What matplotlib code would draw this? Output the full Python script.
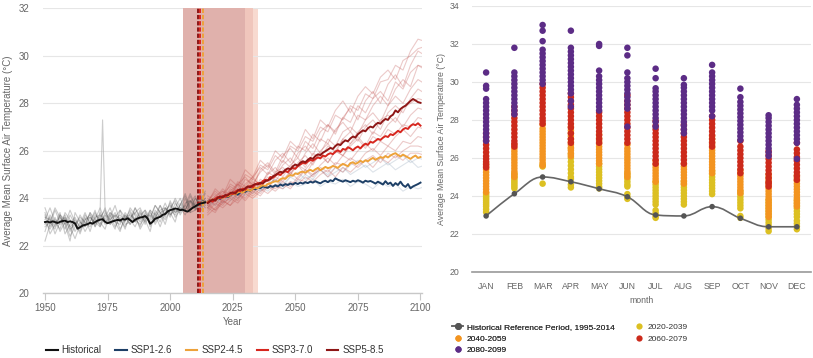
import numpy as np
import matplotlib
matplotlib.use("Agg")
import matplotlib.pyplot as plt
from matplotlib.path import Path
from matplotlib.patches import PathPatch
from matplotlib.lines import Line2D

plt.rcParams['font.family'] = ['Liberation Sans', 'DejaVu Sans']

# ---------------- LEFT CHART DATA ----------------
hist_start = 1950
hist_mean = [23.00, 23.02, 22.98, 23.03, 23.00, 22.96, 23.01, 23.04, 23.06, 23.00,
             23.03, 23.00, 22.94, 22.72, 22.78, 22.85, 22.88, 22.91, 22.97, 22.93,
             23.00, 23.06, 23.10, 23.12, 23.01, 22.95, 22.99, 23.03, 23.06, 23.09,
             23.07, 23.13, 23.10, 23.16, 23.08, 23.00, 23.10, 23.15, 23.19, 23.21,
             23.25, 23.15, 22.93, 23.01, 23.14, 23.18, 23.22, 23.30, 23.34, 23.45,
             23.50, 23.53, 23.57, 23.55, 23.50, 23.52, 23.47, 23.44, 23.52, 23.60,
             23.66, 23.73, 23.78, 23.80, 23.83]

fut_start = 2015
ssp126 = [23.85, 23.92, 23.88, 23.97, 24.02, 23.98, 24.06, 24.10, 24.05, 24.14,
          24.18, 24.22, 24.15, 24.25, 24.30, 24.27, 24.35, 24.32, 24.40, 24.38,
          24.45, 24.42, 24.50, 24.47, 24.44, 24.52, 24.48, 24.55, 24.50, 24.58,
          24.53, 24.60, 24.56, 24.62, 24.58, 24.65, 24.60, 24.66, 24.62, 24.68,
          24.64, 24.70, 24.66, 24.72, 24.67, 24.63, 24.70, 24.74, 24.68, 24.76,
          24.72, 24.84, 24.78, 24.74, 24.70, 24.76, 24.72, 24.68, 24.74, 24.70,
          24.76, 24.72, 24.66, 24.74, 24.70, 24.73, 24.68, 24.62, 24.70, 24.64,
          24.58, 24.72, 24.60, 24.66, 24.52, 24.64, 24.56, 24.70, 24.55, 24.48,
          24.60, 24.42, 24.50, 24.55, 24.60, 24.66]
ssp245 = [23.85, 23.90, 23.95, 23.92, 24.00, 24.05, 24.02, 24.10, 24.08, 24.15,
          24.20, 24.17, 24.25, 24.28, 24.24, 24.33, 24.36, 24.32, 24.40, 24.45,
          24.42, 24.50, 24.55, 24.52, 24.60, 24.63, 24.68, 24.72, 24.70, 24.80,
          24.85, 24.82, 24.92, 24.98, 24.95, 25.05, 25.02, 25.10, 25.12, 25.08,
          25.15, 25.20, 25.14, 25.22, 25.28, 25.18, 25.25, 25.32, 25.27, 25.30,
          25.36, 25.33, 25.28, 25.38, 25.45, 25.40, 25.35, 25.48, 25.52, 25.45,
          25.50, 25.58, 25.52, 25.60, 25.56, 25.64, 25.70, 25.62, 25.68, 25.74,
          25.70, 25.78, 25.72, 25.80, 25.86, 25.90, 25.82, 25.76, 25.84, 25.78,
          25.72, 25.66, 25.74, 25.80, 25.70, 25.74]
ssp370 = [23.82, 23.90, 23.86, 23.98, 24.05, 24.00, 24.10, 24.06, 24.15, 24.20,
          24.18, 24.28, 24.35, 24.30, 24.40, 24.36, 24.48, 24.52, 24.46, 24.58,
          24.64, 24.60, 24.72, 24.78, 24.74, 24.90, 24.86, 24.95, 25.02, 24.98,
          25.08, 25.15, 25.10, 25.22, 25.28, 25.24, 25.36, 25.42, 25.50, 25.46,
          25.55, 25.62, 25.58, 25.66, 25.72, 25.68, 25.80, 25.76, 25.85, 25.90,
          25.86, 25.96, 26.02, 25.95, 26.08, 26.04, 26.15, 26.10, 26.02, 26.12,
          26.18, 26.10, 26.22, 26.30, 26.25, 26.38, 26.34, 26.42, 26.50, 26.46,
          26.55, 26.62, 26.58, 26.70, 26.66, 26.75, 26.84, 26.78, 26.90, 26.96,
          26.92, 27.05, 27.12, 27.08, 27.16, 27.06]
ssp585 = [23.80, 23.88, 23.95, 23.90, 24.02, 24.08, 24.04, 24.14, 24.12, 24.22,
          24.25, 24.20, 24.32, 24.38, 24.34, 24.42, 24.50, 24.46, 24.55, 24.60,
          24.58, 24.66, 24.62, 24.72, 24.76, 24.80, 24.92, 24.98, 25.05, 25.12,
          25.08, 25.20, 25.26, 25.22, 25.35, 25.42, 25.38, 25.50, 25.56, 25.52,
          25.62, 25.70, 25.66, 25.78, 25.85, 25.82, 25.92, 25.98, 26.05, 26.12,
          26.08, 26.20, 26.28, 26.24, 26.36, 26.44, 26.40, 26.52, 26.60, 26.56,
          26.70, 26.78, 26.86, 26.82, 26.95, 27.02, 26.98, 27.10, 27.18, 27.14,
          27.26, 27.34, 27.30, 27.45, 27.52, 27.70, 27.62, 27.76, 27.84, 27.90,
          28.00, 28.10, 28.18, 28.12, 28.05, 28.02]

# historical ensemble members (every 2 years from 1950)
hist_members = [
    [22.6, 23.3, 22.9, 23.4, 22.5, 22.9, 23.2, 22.7, 23.3, 23.0, 23.5, 22.8, 23.2, 23.6, 23.0, 22.9, 23.4,
     23.1, 23.6, 23.2, 23.5, 22.8, 23.3, 23.7, 23.2, 23.9, 23.4, 23.7, 24.1, 23.5, 23.8, 24.2, 23.7],
    [23.4, 22.8, 23.2, 22.6, 23.0, 22.4, 22.8, 23.3, 22.9, 23.4, 22.8, 23.2, 23.5, 22.9, 23.3, 22.7, 23.1,
     23.5, 23.0, 23.4, 23.0, 23.5, 22.9, 23.3, 23.8, 23.3, 23.6, 24.0, 23.5, 23.9, 23.6, 24.0, 23.8],
    [22.2, 22.9, 23.5, 23.0, 23.3, 22.8, 22.3, 22.9, 23.4, 22.9, 23.1, 23.6, 23.0, 23.3, 22.8, 23.2, 22.7,
     23.4, 23.0, 23.5, 22.9, 23.4, 23.1, 23.7, 23.3, 23.5, 24.0, 23.6, 23.3, 23.8, 24.1, 23.6, 23.9],
    [23.1, 23.6, 23.0, 22.7, 23.4, 23.1, 22.6, 23.0, 22.8, 23.4, 23.1, 22.9, 23.3, 23.1, 22.7, 23.5, 23.2,
     22.9, 23.4, 23.6, 23.1, 22.6, 23.5, 23.2, 23.6, 23.4, 23.0, 23.8, 23.5, 24.1, 23.6, 23.4, 23.9],
    [22.8, 23.0, 23.6, 23.2, 22.9, 23.5, 23.0, 22.5, 23.1, 23.3, 22.8, 23.4, 23.0, 23.2, 23.7, 23.0, 23.3,
     22.9, 23.2, 22.8, 23.4, 23.1, 23.7, 23.4, 22.9, 23.6, 23.9, 23.3, 23.7, 23.4, 24.0, 23.7, 24.2],
    [23.3, 22.5, 22.9, 23.2, 22.7, 23.3, 22.9, 23.1, 22.6, 23.0, 23.4, 23.0, 22.7, 23.4, 23.2, 23.5, 22.9,
     23.0, 23.6, 23.1, 23.3, 23.0, 23.4, 23.0, 23.6, 23.2, 23.8, 23.5, 24.0, 23.4, 23.5, 23.9, 23.6],
    [22.9, 23.2, 22.5, 23.0, 23.2, 22.6, 23.1, 22.8, 23.2, 22.6, 23.3, 23.1, 23.6, 22.9, 23.1, 23.3, 23.0,
     23.6, 23.3, 22.7, 23.1, 23.5, 23.3, 22.8, 23.4, 23.8, 23.2, 23.5, 23.7, 24.2, 23.7, 24.1, 23.8],
    [23.6, 23.0, 22.7, 23.3, 22.9, 22.2, 23.4, 23.0, 22.8, 23.2, 22.9, 23.3, 23.1, 23.4, 23.0, 22.6, 23.3,
     23.1, 22.8, 23.3, 23.5, 23.2, 23.7, 23.4, 23.1, 23.5, 23.3, 23.7, 24.2, 23.6, 24.0, 23.8, 24.3],
    [23.0, 22.7, 23.1, 22.9, 23.2, 22.8, 23.0, 22.6, 23.1, 23.2, 23.0, 22.8, 23.4, 23.1, 23.3, 23.1, 22.8,
     23.2, 23.4, 23.0, 23.3, 22.9, 23.2, 23.5, 23.6, 23.3, 23.5, 23.4, 23.8, 23.9, 23.5, 23.8, 24.0],
    [23.2, 23.1, 22.8, 23.3, 23.1, 22.7, 22.9, 23.2, 23.0, 22.8, 23.2, 23.3, 22.9, 23.1, 23.4, 23.0, 23.2,
     23.3, 23.1, 22.9, 23.2, 23.3, 23.0, 23.4, 23.5, 23.7, 23.4, 23.6, 23.5, 23.9, 23.7, 23.6, 24.0],
]
spike_years = [1970, 1971, 1972, 1973, 1974, 1975, 1976]
spike_vals = [23.2, 23.0, 23.4, 27.3, 23.5, 23.1, 23.3]

# future ensemble members (every 3 years from 2015)
fut_members_red = [
    [23.9, 24.3, 24.0, 24.6, 24.4, 25.0, 24.8, 25.4, 25.2, 25.8, 25.5, 26.2, 26.0, 26.6, 26.4, 27.0, 26.8,
     27.5, 27.3, 27.9, 27.7, 28.4, 28.2, 28.9, 29.0, 29.6, 29.4, 30.2, 30.7, 30.6],
    [23.6, 24.0, 24.4, 24.1, 24.7, 24.5, 24.9, 25.3, 25.0, 25.6, 25.9, 25.5, 26.2, 26.0, 26.7, 26.4, 27.1,
     26.8, 27.4, 27.8, 27.3, 28.1, 28.5, 28.0, 28.8, 29.2, 28.7, 29.6, 30.2, 30.0],
    [24.0, 23.7, 24.2, 24.5, 24.3, 24.8, 24.6, 25.1, 25.4, 25.0, 25.6, 25.3, 25.9, 26.2, 25.8, 26.5, 26.3,
     26.9, 27.2, 26.8, 27.5, 27.3, 27.9, 28.3, 27.9, 28.6, 29.0, 28.7, 29.6, 29.4],
    [23.7, 24.1, 23.9, 24.4, 24.2, 24.6, 24.9, 24.5, 25.1, 24.9, 25.4, 25.7, 25.3, 25.9, 26.3, 25.9, 26.5,
     26.2, 26.8, 27.0, 26.7, 27.3, 27.6, 27.2, 27.9, 28.3, 28.0, 28.6, 29.0, 28.8],
    [23.8, 23.5, 24.0, 24.3, 24.0, 24.5, 24.3, 24.8, 24.6, 25.1, 25.3, 25.0, 25.5, 25.8, 25.4, 26.0, 26.3,
     25.9, 26.5, 26.8, 26.4, 27.0, 27.3, 26.9, 27.6, 27.9, 27.6, 28.2, 28.6, 28.4],
    [24.1, 23.9, 24.3, 24.1, 24.6, 24.4, 24.8, 24.6, 25.0, 25.3, 24.9, 25.4, 25.7, 25.3, 25.9, 25.7, 26.2,
     26.0, 26.5, 26.3, 26.8, 27.1, 26.7, 27.3, 27.5, 27.2, 27.8, 28.0, 28.2, 28.1],
    [23.5, 23.9, 23.7, 24.1, 23.9, 24.4, 24.2, 24.6, 24.4, 24.9, 24.7, 25.1, 25.4, 25.0, 25.5, 25.8, 25.5,
     26.0, 25.8, 26.3, 26.6, 26.2, 26.8, 26.6, 27.1, 27.4, 27.0, 27.5, 27.8, 27.7],
    [23.9, 24.2, 23.8, 24.3, 24.6, 24.2, 24.7, 24.5, 24.9, 24.7, 25.2, 25.0, 25.4, 25.2, 25.6, 25.9, 25.5,
     26.0, 25.8, 26.2, 26.5, 26.1, 26.6, 26.4, 26.9, 26.7, 27.1, 27.0, 27.4, 27.3],
    [23.6, 23.4, 23.9, 23.7, 24.2, 24.0, 24.4, 24.2, 24.6, 24.5, 24.8, 25.1, 24.8, 25.2, 25.0, 25.4, 25.7,
     25.4, 25.8, 25.6, 26.0, 26.3, 26.0, 26.4, 26.2, 26.6, 26.9, 26.6, 27.0, 26.9],
    [23.4, 23.8, 23.6, 23.9, 24.2, 23.9, 24.3, 24.1, 24.5, 24.4, 24.7, 24.5, 24.9, 25.2, 24.9, 25.3, 25.1,
     25.5, 25.4, 25.7, 25.5, 25.9, 26.1, 25.8, 26.2, 26.0, 26.4, 26.3, 26.6, 26.5],
    [23.7, 23.5, 23.8, 24.0, 23.8, 24.2, 24.0, 24.3, 24.5, 24.3, 24.6, 24.4, 24.8, 24.7, 25.0, 25.2, 24.9,
     25.3, 25.1, 25.5, 25.3, 25.6, 25.8, 25.5, 25.9, 25.7, 26.0, 26.2, 26.2, 26.1],
    [23.3, 23.6, 23.9, 23.7, 24.0, 24.3, 24.1, 24.4, 24.2, 24.5, 24.4, 24.7, 24.6, 24.9, 24.7, 25.0, 25.2,
     24.9, 25.3, 25.1, 25.4, 25.6, 25.3, 25.7, 25.5, 25.8, 25.6, 25.9, 25.9, 25.8],
    [23.8, 24.4, 24.1, 24.8, 24.5, 25.2, 24.9, 25.6, 25.3, 26.0, 25.7, 26.4, 26.1, 26.9, 26.5, 27.3, 27.0,
     27.7, 28.1, 27.6, 28.3, 28.7, 28.4, 29.1, 29.4, 29.0, 29.8, 30.0, 30.3, 30.4],
    [23.6, 24.1, 24.3, 24.0, 24.6, 24.9, 24.5, 25.2, 25.5, 25.1, 25.8, 26.1, 25.7, 26.4, 26.1, 26.8, 27.1,
     26.7, 27.4, 27.2, 27.9, 27.6, 28.2, 28.5, 28.1, 28.9, 28.6, 29.3, 29.6, 29.5],
]
fut_members_blue = [
    [23.7, 24.0, 23.8, 24.2, 24.4, 24.1, 24.5, 24.3, 24.6, 24.8, 24.5, 24.9, 24.7, 25.0, 24.8, 25.2, 24.9,
     25.1, 25.3, 25.0, 25.2, 25.4, 25.1, 25.3, 25.5, 25.2, 25.4, 25.6, 25.3, 25.4],
    [23.9, 23.7, 24.1, 23.9, 24.2, 24.4, 24.2, 24.5, 24.3, 24.6, 24.4, 24.7, 24.5, 24.6, 24.8, 24.5, 24.7,
     24.6, 24.8, 24.5, 24.7, 24.6, 24.4, 24.7, 24.5, 24.6, 24.3, 24.5, 24.4, 24.5],
    [23.6, 23.9, 24.0, 24.2, 24.0, 24.3, 24.5, 24.3, 24.6, 24.8, 24.6, 24.9, 25.1, 24.8, 25.0, 25.2, 25.0,
     25.3, 25.1, 25.4, 25.6, 25.3, 25.5, 25.7, 25.4, 25.6, 25.8, 25.5, 25.7, 25.6],
]

left_series = ["Historical", "SSP1-2.6", "SSP2-4.5", "SSP3-7.0", "SSP5-8.5"]
left_colors = ["#111111", "#1d3f66", "#eda23a", "#d7261e", "#8e1616"]

# ---------------- RIGHT CHART DATA ----------------
months = ["JAN", "FEB", "MAR", "APR", "MAY", "JUN", "JUL", "AUG", "SEP", "OCT", "NOV", "DEC"]
hist_ref = [22.95, 24.12, 25.0, 24.75, 24.38, 23.96, 23.0, 22.95, 23.44, 22.83, 22.38, 22.38]

p2020 = [
    [23.15, 23.3, 23.45, 23.55, 23.65, 23.75, 23.85, 23.95, 24.05, 24.15],
    [24.4, 24.5, 24.6, 24.7, 24.8, 24.9, 25.0, 25.1, 25.2],
    [24.65, 25.55, 25.65],
    [24.45, 24.6, 24.9, 25.0, 25.2, 25.4, 25.6, 25.8, 26.0, 26.2, 26.5],
    [24.4, 24.5, 24.65, 24.8, 24.95, 25.1, 25.25, 25.4, 25.55, 25.7],
    [23.85, 23.95, 24.1, 24.5, 24.6, 24.75, 24.9, 25.05, 25.2],
    [22.85, 22.95, 23.1, 23.25, 23.55, 23.7, 23.85, 24.0, 24.15, 24.3, 24.45, 24.6, 24.75],
    [23.55, 23.7, 23.85, 24.0, 24.15, 24.3, 24.45, 24.6, 24.75],
    [24.1, 24.25, 24.4, 24.55, 24.7, 24.85, 25.0, 25.15, 25.3],
    [22.85, 22.95, 23.35, 23.5, 23.65, 23.8, 23.95, 24.1, 24.25],
    [22.15, 22.3, 22.45, 22.6, 22.75, 22.9, 23.05, 23.2, 23.35, 23.5, 23.65, 23.8],
    [22.25, 22.4, 22.55, 22.7, 22.9, 23.05, 23.2, 23.35, 23.5, 23.65, 23.8],
]
p2040 = [
    [24.2, 24.35, 24.5, 24.65, 24.8, 24.95, 25.1, 25.25, 25.4, 25.55, 25.7],
    [25.0, 25.15, 25.3, 25.45, 25.6, 25.75, 25.9, 26.05, 26.2, 26.35, 26.5, 26.7],
    [25.6, 25.75, 25.9, 26.05, 26.2, 26.35, 26.5, 26.65, 26.8, 26.95, 27.1, 27.25, 27.4, 27.55, 27.75],
    [26.1, 26.25, 26.4, 26.55, 26.7, 26.85, 27.0, 27.15, 27.3, 27.45, 27.65],
    [25.7, 25.85, 26.0, 26.15, 26.3, 26.45, 26.6, 26.75, 26.9, 27.05, 27.25],
    [25.0, 25.15, 25.3, 25.45, 25.6, 25.75, 25.9, 26.05, 26.2, 26.35, 26.5, 26.7],
    [24.75, 24.9, 25.05, 25.2, 25.35, 25.5, 25.65, 25.85],
    [24.65, 24.8, 24.95, 25.1, 25.25, 25.4, 25.55, 25.7],
    [25.2, 25.35, 25.5, 25.65, 25.8, 25.95, 26.1, 26.25, 26.4, 26.55, 26.7, 26.85, 27.0, 27.15],
    [24.15, 24.3, 24.45, 24.6, 24.75, 24.9, 25.05, 25.2, 25.35],
    [22.9, 23.05, 23.2, 23.35, 23.5, 23.65, 23.8, 23.95, 24.1, 24.25, 24.4, 24.55, 24.7, 24.85, 25.0, 25.15],
    [23.45, 23.6, 23.75, 23.9, 24.05, 24.2, 24.35, 24.5, 24.65, 24.8, 24.95, 25.1],
]
p2060 = [
    [25.5, 25.65, 25.8, 25.95, 26.1, 26.3, 26.5, 26.7, 26.9, 27.1, 27.3],
    [26.6, 26.75, 26.9, 27.1, 27.3, 27.5, 27.7, 27.9, 28.1, 28.3, 28.5, 28.7],
    [27.8, 27.95, 28.1, 28.3, 28.5, 28.7, 28.9, 29.1, 29.3, 29.5, 29.7, 29.9],
    [26.8, 27.0, 27.3, 27.6, 27.8, 28.0, 28.2, 28.4, 28.6, 28.8, 29.0, 29.2, 29.4],
    [26.8, 27.0, 27.2, 27.4, 27.6, 27.8, 28.0, 28.2, 28.4],
    [26.8, 27.0, 27.2, 27.4, 27.6, 27.8, 28.0, 28.2, 28.4, 28.6, 28.8, 29.0, 29.3],
    [25.7, 25.9, 26.1, 26.3, 26.5, 26.7, 26.9, 27.1, 27.3, 27.5, 27.7, 27.95],
    [25.7, 25.9, 26.1, 26.3, 26.5, 26.7, 26.9, 27.1, 27.3, 27.5, 27.75],
    [26.6, 26.8, 27.0, 27.2, 27.4, 27.6, 27.8, 28.0, 28.2],
    [25.2, 25.4, 25.6, 25.8, 26.0, 26.2, 26.4, 26.6, 26.9],
    [24.5, 24.65, 24.75, 24.95, 25.15, 25.35, 25.55, 25.75, 25.95, 26.15, 26.35],
    [24.85, 25.05, 25.25, 25.45, 25.65, 25.85, 26.05, 26.25, 26.45, 26.8],
]
p2080 = [
    [26.9, 27.1, 27.3, 27.5, 27.7, 27.9, 28.1, 28.3, 28.5, 28.7, 28.9, 29.1, 29.65, 29.8, 30.5],
    [28.3, 28.5, 28.7, 28.9, 29.1, 29.3, 29.5, 29.7, 29.9, 30.1, 30.3, 30.5, 31.8],
    [29.9, 30.1, 30.3, 30.5, 30.7, 30.9, 31.1, 31.3, 31.5, 31.7, 32.15, 32.7, 33.0],
    [28.7, 29.0, 29.4, 29.6, 29.8, 30.0, 30.2, 30.4, 30.6, 30.8, 31.0, 31.2, 31.4, 31.6, 31.8, 32.7],
    [28.5, 28.7, 28.9, 29.1, 29.3, 29.5, 29.7, 29.9, 30.1, 30.3, 30.6, 31.9, 32.0],
    [27.65, 28.6, 28.8, 29.0, 29.2, 29.4, 29.6, 29.8, 30.0, 30.2, 30.5, 31.4, 31.8],
    [27.65, 27.9, 28.1, 28.3, 28.5, 28.7, 28.9, 29.1, 29.3, 29.5, 29.67, 30.2, 30.7],
    [27.3, 27.5, 27.7, 27.9, 28.1, 28.3, 28.5, 28.7, 28.9, 29.1, 29.3, 29.5, 29.7, 29.85, 30.2],
    [28.2, 28.5, 28.7, 28.9, 29.1, 29.3, 29.5, 29.7, 29.9, 30.1, 30.3, 30.5, 30.9],
    [26.95, 27.15, 27.35, 27.55, 27.75, 27.95, 28.15, 28.35, 28.55, 28.75, 28.95, 29.2, 29.65],
    [26.1, 26.3, 26.5, 26.7, 26.9, 27.1, 27.3, 27.5, 27.7, 27.9, 28.1, 28.25],
    [25.95, 26.8, 27.0, 27.2, 27.4, 27.6, 27.8, 28.0, 28.2, 28.4, 28.6, 28.8, 29.1],
]
period_labels = ["2020-2039", "2040-2059", "2060-2079", "2080-2099"]
period_colors = ["#dcc022", "#f39420", "#cc2a1b", "#5c2c86"]
hist_ref_label = "Historical Reference Period, 1995-2014"

# ---------------- FIGURE ----------------
W, H = 813, 358
fig = plt.figure(figsize=(W / 100, H / 100), dpi=100)

def ax_rect(l, t, r, b):
    return [l / W, 1 - b / H, (r - l) / W, (b - t) / H]

TXT = "#666666"
GRID = "#e6e6e6"

# ===== LEFT =====
ax = fig.add_axes(ax_rect(43, 8.3, 422, 293.3))
ax.set_xlim(1949.2, 2100.6)
ax.set_ylim(20, 32)
for s in ["top", "right", "left"]:
    ax.spines[s].set_visible(False)
ax.spines["bottom"].set_color("#c8c8c8")
ax.spines["bottom"].set_linewidth(1.0)
ax.set_yticks(range(20, 33, 2))
ax.set_xticks(range(1950, 2101, 25))
ax.tick_params(axis="y", length=0, pad=10, labelsize=7, labelcolor=TXT)
ax.tick_params(axis="x", length=5, width=0.8, color="#c8c8c8", pad=2, labelsize=7, labelcolor=TXT)
ax.grid(axis="y", color=GRID, linewidth=0.8, zorder=0)
ax.set_axisbelow(True)

ax.axvspan(2005, 2035, color="#f8dad0", lw=0, zorder=0.5)
ax.axvspan(2005, 2033, color="#f0c6bc", lw=0, zorder=0.6)
ax.axvspan(2005, 2030, color="#e0b1ac", lw=0, zorder=0.7)

for m in hist_members:
    yrs = hist_start + 2 * np.arange(len(m))
    ax.plot(yrs, m, color="#444444", alpha=0.28, lw=0.8, zorder=2)
ax.plot(spike_years, spike_vals, color="#aaaaaa", alpha=0.6, lw=0.8, zorder=2)

for m in fut_members_blue:
    yrs = fut_start + 3 * np.arange(len(m))
    ax.plot(yrs, m, color="#8fa3b8", alpha=0.3, lw=0.8, zorder=2)
for m in fut_members_red:
    yrs = fut_start + 3 * np.arange(len(m))
    ax.plot(yrs, m, color="#c0504d", alpha=0.3, lw=0.8, zorder=2)

for xv, c in [(2011, "#8e1616"), (2012, "#d7261e"), (2013, "#eda23a")]:
    ax.axvline(xv, color=c, lw=1.4, dashes=(2.2, 1.0), zorder=3)

hy = hist_start + np.arange(len(hist_mean))
ax.plot(hy, hist_mean, color=left_colors[0], lw=1.4, zorder=5)
fy = fut_start + np.arange(len(ssp126))
for vals, c in zip([ssp126, ssp245, ssp370, ssp585], left_colors[1:]):
    ax.plot(fy, vals, color=c, lw=1.4, zorder=5)

ax.set_xlabel("Year", fontsize=7, color=TXT, labelpad=3)
fig.text(8 / W, 1 - 150.8 / H, "Average Mean Surface Air Temperature (°C)", rotation=90,
         fontsize=7, color=TXT, ha="center", va="center")

lh = [Line2D([0], [0], color=c, lw=1.5) for c in left_colors]
fig.legend(lh, left_series, loc="center", bbox_to_anchor=(215 / W, 1 - 350 / H), ncol=5,
           frameon=False, fontsize=7, handlelength=1.15, handletextpad=0.4, columnspacing=1.45,
           labelcolor="#333333")

# ===== RIGHT =====
ax2 = fig.add_axes(ax_rect(472, 6, 811, 272))
ax2.set_xlim(-0.5, 11.5)
ax2.set_ylim(20, 34)
for s in ["top", "right", "left"]:
    ax2.spines[s].set_visible(False)
ax2.spines["bottom"].set_color("#999999")
ax2.spines["bottom"].set_linewidth(1.2)
ax2.set_yticks(range(20, 35, 2))
ax2.set_xticks(range(12))
ax2.set_xticklabels(months)
ax2.tick_params(axis="y", length=0, pad=9, labelsize=6.3, labelcolor=TXT)
ax2.tick_params(axis="x", length=0, pad=7, labelsize=6.3, labelcolor=TXT)
ax2.grid(axis="y", color=GRID, linewidth=0.8)
ax2.set_axisbelow(True)

for per, c in zip([p2020, p2040, p2060, p2080], period_colors):
    xs, ys = [], []
    for i, vals in enumerate(per):
        xs.extend([i] * len(vals))
        ys.extend(vals)
    ax2.scatter(xs, ys, s=22, color=c, edgecolors="none", zorder=3)

# Highcharts-like spline for historical reference
def spline_path(xv, yv, smoothing=1.5):
    n = len(xv)
    denom = smoothing + 1
    lc = [None] * n
    rc = [None] * n
    for i in range(1, n - 1):
        px, py = xv[i], yv[i]
        lx, ly = xv[i - 1], yv[i - 1]
        nx, ny = xv[i + 1], yv[i + 1]
        lcx = (smoothing * px + lx) / denom
        lcy = (smoothing * py + ly) / denom
        rcx = (smoothing * px + nx) / denom
        rcy = (smoothing * py + ny) / denom
        corr = 0.0
        if rcx != lcx:
            corr = ((rcy - lcy) * (rcx - px)) / (rcx - lcx) + py - rcy
        lcy += corr
        rcy += corr
        if lcy > ly and lcy > py:
            lcy = max(ly, py); rcy = 2 * py - lcy
        elif lcy < ly and lcy < py:
            lcy = min(ly, py); rcy = 2 * py - lcy
        if rcy > ny and rcy > py:
            rcy = max(ny, py); lcy = 2 * py - rcy
        elif rcy < ny and rcy < py:
            rcy = min(ny, py); lcy = 2 * py - rcy
        lc[i] = (lcx, lcy)
        rc[i] = (rcx, rcy)
    verts = [(xv[0], yv[0])]
    codes = [Path.MOVETO]
    for i in range(1, n):
        c1 = rc[i - 1] if rc[i - 1] is not None else (xv[i - 1], yv[i - 1])
        c2 = lc[i] if lc[i] is not None else (xv[i], yv[i])
        verts += [c1, c2, (xv[i], yv[i])]
        codes += [Path.CURVE4] * 3
    return Path(verts, codes)

mx = list(range(len(hist_ref)))
ax2.add_patch(PathPatch(spline_path(mx, hist_ref), facecolor="none", edgecolor="#666666",
                        lw=1.2, zorder=4))
ax2.scatter(mx, hist_ref, s=16, color="#555555", edgecolors="none", zorder=5)

ax2.set_xlabel("month", fontsize=6.3, color=TXT, labelpad=4)
fig.text(441 / W, 1 - 139 / H, "Average Mean Surface Air Temperature (°C)", rotation=90,
         fontsize=6.3, color=TXT, ha="center", va="center")

hh = Line2D([0], [0], color="#666666", lw=1.2, marker="o", markersize=4,
            markerfacecolor="#555555", markeredgecolor="#555555")
ph = [Line2D([0], [0], color=c, lw=0, marker="o", markersize=4.5, markeredgecolor="none")
      for c in period_colors]
leg_kw = dict(loc="upper left", frameon=False, fontsize=6.0, handlelength=1.3, handletextpad=0.45,
              labelspacing=0.45, borderpad=0, labelcolor="#333333")
leg1 = fig.legend([hh, ph[1], ph[3]], [hist_ref_label, period_labels[1], period_labels[3]],
                  bbox_to_anchor=(448 / W, 1 - 319 / H), **leg_kw)
fig.add_artist(leg1)
fig.legend([ph[0], ph[2]], [period_labels[0], period_labels[2]],
           bbox_to_anchor=(629 / W, 1 - 319 / H), **leg_kw)

fig.savefig("out.png", dpi=100)
